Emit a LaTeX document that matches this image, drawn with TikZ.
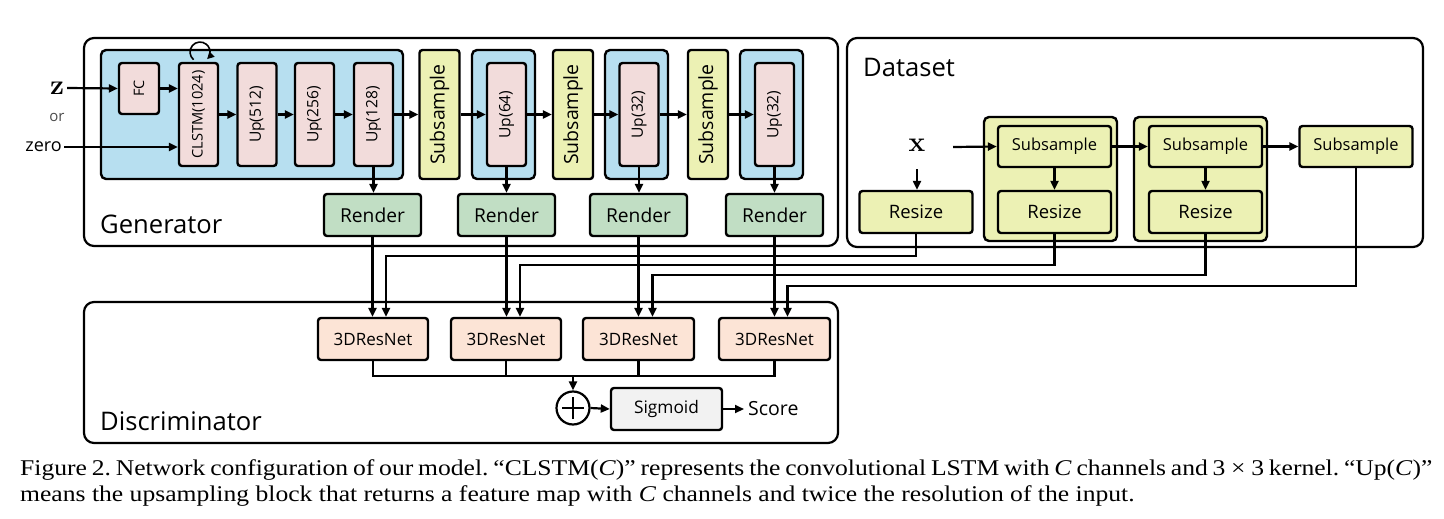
\documentclass[tikz,border=0pt]{standalone}
\usepackage{fontspec}
\usepackage{graphicx}
\setsansfont{Open Sans}
\newfontfamily\capfont{Liberation Serif}
\usetikzlibrary{arrows.meta}
\definecolor{bluef}{RGB}{183,223,240}
\definecolor{pinkf}{RGB}{242,220,219}
\definecolor{yellowf}{RGB}{236,241,180}
\definecolor{greenf}{RGB}{193,222,196}
\definecolor{peachf}{RGB}{252,228,214}
\definecolor{grayf}{RGB}{242,242,242}
\newcommand{\fs}[1]{\fontsize{#1}{#1}\selectfont}
\frenchspacing
\begin{document}
\begin{tikzpicture}[x=1pt,y=-1pt,
  blk/.style={draw, line width=2.4pt, rounded corners=3pt, inner sep=0pt, font=\sffamily},
  container/.style={draw, line width=2.4pt, rounded corners=5pt, inner sep=0pt},
  outerbox/.style={draw, line width=2.2pt, rounded corners=10pt},
  uppink/.style={blk, fill=pinkf, minimum width=39pt, minimum height=103pt, font=\sffamily\fs{15.6}},
  subv/.style={blk, fill=yellowf, minimum width=40pt, minimum height=129pt, font=\sffamily\fs{19.5}},
  render/.style={blk, fill=greenf, minimum width=97pt, minimum height=42pt, font=\sffamily\fs{19.2}},
  resnet/.style={blk, fill=peachf, minimum width=110pt, minimum height=42pt, font=\sffamily\fs{17}},
  subh/.style={blk, fill=yellowf, minimum width=113pt, minimum height=41pt, font=\sffamily\fs{16.5}},
  resz/.style={blk, fill=yellowf, minimum width=113pt, minimum height=42pt, font=\sffamily\fs{18.5}},
  group/.style={container, fill=yellowf, minimum width=133pt, minimum height=124pt},
  bluebox/.style={container, fill=bluef, minimum width=63pt, minimum height=129pt},
  conn/.style={line width=2.2pt},
  arr/.style={conn, -{Triangle[length=9pt,width=8pt]}},
  title/.style={anchor=west, inner sep=0pt, font=\sffamily\fs{25.6}},
  captext/.style={anchor=west, inner sep=0pt, font=\capfont\fs{22.5}}
]
\useasboundingbox (0,0) rectangle (1444,519);

% outer boxes
\draw[outerbox] (84,38) rectangle (838,246);
\draw[outerbox] (847,38) rectangle (1423,247);
\draw[outerbox] (84,302) rectangle (838,443);

\node[title] (gen) at (100,224) {Generator};
\node[title] (dat) at (863,67) {Dataset};
\node[title] (dis) at (100,421) {Discriminator};

% generator containers
\node[container, fill=bluef, minimum width=302pt, minimum height=129pt] (B1) at (252,114.5) {};
\node[bluebox] (B2) at (503.5,114.5) {};
\node[bluebox] (B3) at (636.5,114.5) {};
\node[bluebox] (B4) at (771.5,114.5) {};

% generator blocks
\node[blk, fill=pinkf, minimum width=40pt, minimum height=51pt, font=\sffamily\fs{14.4}] (FC) at (139,88.5) {\rotatebox{90}{FC}};
\node[uppink, font=\sffamily\fs{14.6}] (CL) at (198.5,114.5) {\rotatebox{90}{CLSTM(1024)}};
\node[uppink] (U1) at (257,114.5) {\rotatebox{90}{Up(512)}};
\node[uppink] (U2) at (314.5,114.5) {\rotatebox{90}{Up(256)}};
\node[uppink] (U3) at (373.5,114.5) {\rotatebox{90}{Up(128)}};
\node[subv] (S1) at (439.5,114.5) {\rotatebox{90}{Subsample}};
\node[uppink] (U4) at (506.5,114.5) {\rotatebox{90}{Up(64)}};
\node[subv] (S2) at (573,114.5) {\rotatebox{90}{Subsample}};
\node[uppink] (U5) at (639,114.5) {\rotatebox{90}{Up(32)}};
\node[subv] (S3) at (708,114.5) {\rotatebox{90}{Subsample}};
\node[uppink] (U6) at (774.5,114.5) {\rotatebox{90}{Up(32)}};

\node[render] (R1) at (372.5,215) {Render};
\node[render] (R2) at (506.5,215) {Render};
\node[render] (R3) at (638.5,215) {Render};
\node[render] (R4) at (774.5,215) {Render};

% inputs
\node[inner sep=3pt, font=\fs{28}\bfseries] (z) at (57,88) {z};
\node[inner sep=0pt, font=\sffamily\fs{15}, text=black!70] (or) at (57,117) {or};
\node[anchor=east, inner sep=2pt, font=\sffamily\fs{18}] (zero) at (64,147) {zero};

\draw[arr] (z.east) -- (FC.west);
\draw[arr] (zero.east) -- (zero.east -| CL.west);
\draw[arr] (FC.east) -- (FC.east -| CL.west);
\draw[arr] (CL.east) -- (U1.west);
\draw[arr] (U1.east) -- (U2.west);
\draw[arr] (U2.east) -- (U3.west);
\draw[arr] (U3.east) -- (S1.west);
\draw[arr] (S1.east) -- (U4.west);
\draw[arr] (U4.east) -- (S2.west);
\draw[arr] (S2.east) -- (U5.west);
\draw[arr] (U5.east) -- (S3.west);
\draw[arr] (S3.east) -- (U6.west);
\draw[line width=1.6pt, -{Triangle[length=7pt,width=7pt]}] (193.6,59.7) arc[start angle=130, end angle=405, radius=10];

\draw[arr] (U3.south) -- (U3.south |- R1.north);
\draw[arr] (U4.south) -- (U4.south |- R2.north);
\draw[arr] (U5.south) -- (U5.south |- R3.north);
\draw[arr] (U6.south) -- (U6.south |- R4.north);

% dataset
\node[group] (G1) at (1050.5,179) {};
\node[group] (G2) at (1200.5,179) {};
\node[font=\fs{28}\bfseries, inner sep=0pt] (x) at (917,145) {x};
\node[resz] (Rs0) at (916,212) {Resize};
\node[subh] (Sa) at (1054.5,146.5) {Subsample};
\node[resz] (Ra) at (1054.5,212) {Resize};
\node[subh] (Sb) at (1205.5,146.5) {Subsample};
\node[resz] (Rb) at (1205.5,212) {Resize};
\node[subh] (Sc) at (1356,146.5) {Subsample};
\coordinate (xs) at (953,147);
\coordinate (xd) at (917,169);
\draw[arr] (xs) -- (Sa.west);
\draw[arr] (xd) -- (xd |- Rs0.north);
\draw[arr] (Sa.east) -- (Sb.west);
\draw[arr] (Sb.east) -- (Sc.west);
\draw[arr] (Sa.south) -- (Ra.north);
\draw[arr] (Sb.south) -- (Rb.north);

% discriminator
\node[resnet] (D1) at (373,339) {3DResNet};
\node[resnet] (D2) at (506,339) {3DResNet};
\node[resnet, minimum width=111pt] (D3) at (638.5,339) {3DResNet};
\node[resnet, minimum width=111pt] (D4) at (774.5,339) {3DResNet};
\node[draw, circle, line width=2.2pt, minimum size=33pt, inner sep=0pt] (plus) at (573,408) {};
\draw[line width=1.6pt] ([yshift=-11pt]plus.center) -- ([yshift=11pt]plus.center);
\draw[line width=1.6pt] ([xshift=-11pt]plus.center) -- ([xshift=11pt]plus.center);
\node[blk, fill=grayf, minimum width=111pt, minimum height=42pt, font=\sffamily\fs{17.3}] (Sig) at (666.5,409) {Sigmoid};
\node[anchor=west, inner sep=0pt, font=\sffamily\fs{19.5}] (Score) at (748,409) {Score};

\draw[arr] (R1.south) -- (R1.south |- D1.north);
\draw[arr] (R2.south) -- (R2.south |- D2.north);
\draw[arr] (R3.south) -- (R3.south |- D3.north);
\draw[arr] (R4.south) -- (R4.south |- D4.north);

\draw[arr] (Rs0.south) -- ++(0,22) -| ([xshift=13pt]D1.north);
\draw[arr] (Ra.south) -- ++(0,31) -| ([xshift=14pt]D2.north);
\draw[arr] (Rb.south) -- ++(0,41) -| ([xshift=14pt]D3.north);
\draw[arr] (Sc.south) -- ++(0,118) -| ([xshift=13pt]D4.north);

\draw[conn] (D1.south) -- ++(0,15) -| (D4.south);
\draw[conn] (D2.south) -- ++(0,15);
\draw[conn] (D3.south) -- ++(0,15);
\coordinate (sj) at (573,376);
\draw[arr] (sj) -- (plus.north);
\draw[arr] (plus.east) -- (Sig.west);
\draw[arr] (Sig.east) -- ([xshift=-4pt]Score.west);

% caption
\node[captext] (cap1) at (20,470) {\scalebox{1.138}[1]{\makebox[1241pt][s]{Figure 2. Network configuration of our model. “CLSTM(\textit{C})” represents the convolutional LSTM with \textit{C} channels and 3\hspace{0.22em}×\hspace{0.22em}3 kernel. “Up(\textit{C})”}}};
\node[captext] (cap2) at (20,496) {\scalebox{1.138}[1]{means the upsampling block that returns a feature map with \textit{C} channels and twice the resolution of the input.}};
\end{tikzpicture}
\end{document}
